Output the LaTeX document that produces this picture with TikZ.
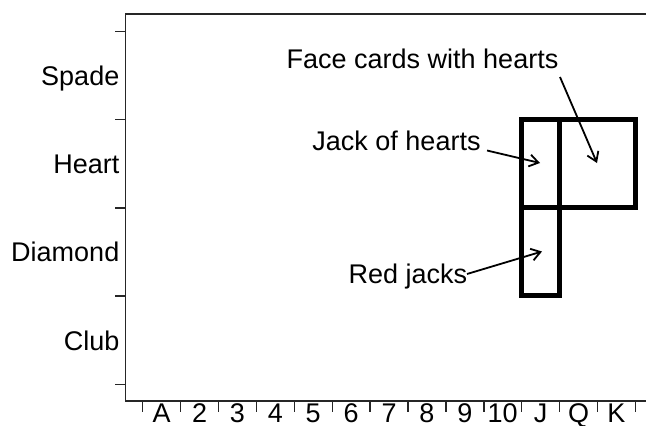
\documentclass[tikz,border=0pt]{standalone}
\usepackage{fontspec}
\setmainfont{Liberation Sans}
\usetikzlibrary{arrows.meta}
\tikzset{
  lbl/.style={inner sep=0pt, font=\fontsize{27}{31}\selectfont},
  frameline/.style={line width=1.8pt, black!85},
  tickline/.style={line width=1.4pt, black!85},
  setbox/.style={line width=5pt, black},
  pointer/.style={line width=1.8pt, -{Straight Barb[length=9pt,width=12pt,line width=1.8pt]}}
}
\begin{document}
\begin{tikzpicture}[x=1pt,y=-1pt]
\useasboundingbox (0,0) rectangle (646,426);
% frame
\draw[frameline] (646,14) -- (125.5,14) -- (125.5,401) -- (646,401);
% y ticks
\foreach \k in {0,...,4} \draw[tickline] (115,31.5+88.2*\k) -- (125.5,31.5+88.2*\k);
% x ticks
\foreach \k in {0,...,13} \draw[tickline] (142.7+37.9*\k,401) -- (142.7+37.9*\k,412);
% y labels
\node[lbl, anchor=base east] (spade) at (119.5,85) {Spade};
\node[lbl, anchor=base east] (heart) at (119.5,173.3) {Heart};
\node[lbl, anchor=base east] (diamond) at (119.5,261.6) {Diamond};
\node[lbl, anchor=base east] (club) at (119.5,350) {Club};
% x labels
\foreach \t [count=\i from 0] in {A,2,3,4,5,6,7,8,9,10,J,Q,K}
  \node[lbl, anchor=base] (x\i) at (161.65+37.9*\i,422.3) {\t};
% boxes
\coordinate (jtl) at (521.7,119.7);
\coordinate (jbr) at (559.6,295.5);
\coordinate (qtl) at (559.6,119.7);
\coordinate (qbr) at (635.4,207.6);
\draw[setbox] (jtl) rectangle (jbr);
\draw[setbox] (qtl) rectangle (qbr);
\draw[setbox] (521.7,207.6) -- (559.6,207.6);
% labels and pointers
\node[lbl, anchor=base] (face) at (422.5,68) {Face cards with hearts};
\node[lbl, anchor=base] (jack) at (396.5,150) {Jack of hearts};
\node[lbl, anchor=base] (red) at (408,283) {Red jacks};
\coordinate (facetip) at (597,163);
\coordinate (jacktip) at (540,163);
\coordinate (redtip) at (542,251.5);
\coordinate (facestart) at (560,77);
\coordinate (jackstart) at (487,150.5);
\coordinate (redstart) at (467,274);
\draw[pointer] (facestart) -- (facetip);
\draw[pointer] (jackstart) -- (jacktip);
\draw[pointer] (redstart) -- (redtip);
\end{tikzpicture}
\end{document}
